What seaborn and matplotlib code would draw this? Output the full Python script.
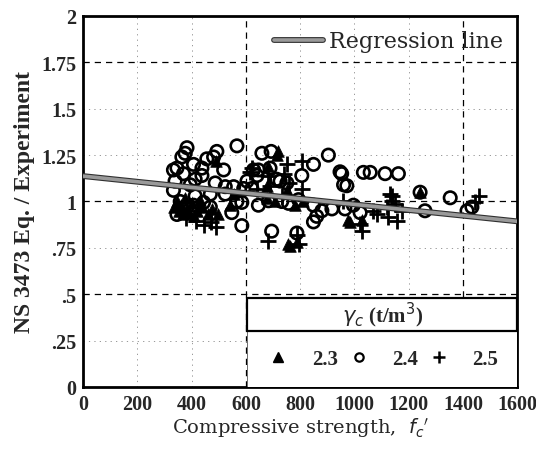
import matplotlib
matplotlib.use("Agg")
import matplotlib.pyplot as plt
import matplotlib.patheffects as pe
from matplotlib.lines import Line2D
from matplotlib.patches import Rectangle
import seaborn as sns
import pandas as pd

# ---- data ----
tri_x = [335, 345, 352, 360, 368, 375, 383, 392, 400, 410, 420, 432, 440, 460, 475, 491, 498,
         555, 540, 714, 719, 682, 677, 751, 708, 677, 781, 812, 757, 763, 790, 975, 984, 1027, 1242]
tri_y = [0.97, 1.00, 0.95, 0.98, 0.93, 1.02, 0.96, 0.94, 0.99, 0.92, 0.95, 1.01, 0.97, 0.93, 0.96, 1.22, 0.93,
         1.04, 0.98, 1.25, 1.27, 1.19, 1.085, 1.06, 1.00, 1.02, 0.98, 1.00, 0.77, 0.76, 0.78, 0.90, 0.89, 0.90, 1.05]

cir_x = [383, 376, 364, 346, 370, 339, 333, 407, 438, 456, 481, 493, 567, 518, 438, 413, 487, 524,
         555, 604, 628, 641, 622, 592, 413, 469, 524, 567, 585, 548, 469, 407, 346, 585, 358, 383,
         444, 333, 395,
         659, 693, 646, 689, 714, 726, 751, 806, 849, 904, 947, 960, 732, 757, 794, 849, 880, 861,
         917, 849, 695, 788, 646, 683,
         953, 972, 1033, 1058, 1113, 1162, 965, 1021, 1242, 1260, 996,
         1353, 1415, 1433]
cir_y = [1.29, 1.26, 1.24, 1.18, 1.15, 1.11, 1.06, 1.20, 1.18, 1.23, 1.24, 1.27, 1.30, 1.17, 1.14, 1.12, 1.10, 1.08,
         1.08, 1.11, 1.17, 1.14, 1.07, 1.07, 1.03, 1.04, 1.04, 1.00, 0.995, 0.94, 0.97, 0.98, 0.93, 0.87, 1.00, 0.97,
         0.995, 1.17, 1.09,
         1.26, 1.27, 1.17, 1.18, 1.12, 1.11, 1.10, 1.14, 1.20, 1.25, 1.16, 1.09, 1.00, 0.99, 1.01, 0.98, 0.95, 0.92,
         0.96, 0.89, 0.84, 0.83, 0.98, 1.004,
         1.15, 1.085, 1.157, 1.157, 1.15, 1.15, 0.96, 0.94, 1.05, 0.95, 0.98,
         1.02, 0.95, 0.97]

plus_x = [415, 445, 470, 490, 380, 622, 616, 751, 806, 683, 732, 806, 689, 680, 794, 788,
          959, 1021, 1027, 1070, 1082, 1131, 1137, 1119, 1150, 1125, 1156, 1174, 1138,
          1458, 1445, 740, 760, 640]
plus_y = [0.895, 0.875, 0.89, 0.86, 0.91, 1.18, 1.16, 1.20, 1.22, 1.14, 1.03, 1.07, 1.085, 0.785, 0.77, 0.82,
          1.004, 0.878, 0.84, 0.95, 0.93, 1.04, 1.004, 0.97, 0.985, 0.914, 0.896, 0.95, 1.03,
          1.03, 0.995, 1.15, 1.10, 1.07]

reg_x = [0, 1600]
reg_y = [1.137, 0.893]

x_ticks = [0, 200, 400, 600, 800, 1000, 1200, 1400, 1600]
y_ticks = [0, 0.25, 0.5, 0.75, 1, 1.25, 1.5, 1.75, 2]
y_tick_labels = ["0", ".25", ".5", ".75", "1", "1.25", "1.5", "1.75", "2"]
legend_labels = ["2.3", "2.4", "2.5"]

sns.set_style("white")
plt.rcParams['font.family'] = ['Liberation Serif', 'DejaVu Serif']

fig = plt.figure(figsize=(5.36, 4.52), dpi=100)
ax = fig.add_axes([0.155, 0.1416, 0.81, 0.8208])

# grid
for v in x_ticks[1:-1]:
    strong = v in (600, 1400)
    ax.axvline(v, color='black' if strong else '#888888', lw=0.9 if strong else 0.6,
               dashes=(5, 4) if strong else (1.5, 5), zorder=0)
for v in y_ticks[1:-1]:
    strong = v in (0.5, 1.0, 1.75)
    ax.axhline(v, color='black' if strong else '#888888', lw=0.9 if strong else 0.6,
               dashes=(5, 4) if strong else (1.5, 5), zorder=0)

df_t = pd.DataFrame({"x": tri_x, "y": tri_y})
df_c = pd.DataFrame({"x": cir_x, "y": cir_y})
df_p = pd.DataFrame({"x": plus_x, "y": plus_y})

sns.scatterplot(data=df_c, x="x", y="y", ax=ax, marker='o', s=80, facecolor='none',
                edgecolor='black', linewidth=1.9, zorder=3)
sns.scatterplot(data=df_t, x="x", y="y", ax=ax, marker='^', s=70, color='black',
                edgecolor='black', linewidth=0.5, zorder=3)
sns.scatterplot(data=df_p, x="x", y="y", ax=ax, marker='+', s=130, color='black',
                linewidth=2.0, zorder=3)

df_r = pd.DataFrame({"x": reg_x, "y": reg_y})
sns.lineplot(data=df_r, x="x", y="y", ax=ax, color='#9a9a9a', lw=2.6, zorder=4,
             path_effects=[pe.Stroke(linewidth=4.2, foreground='#303030'), pe.Normal()])

ax.set_xlim(0, 1600)
ax.set_ylim(0, 2)
ax.set_xticks(x_ticks)
ax.set_xticklabels([str(v) for v in x_ticks])
ax.set_yticks(y_ticks)
ax.set_yticklabels(y_tick_labels)
ax.tick_params(direction='in', length=3, width=1, labelsize=14.5, pad=5)
for lab in ax.get_xticklabels() + ax.get_yticklabels():
    lab.set_fontweight('bold')
for s in ax.spines.values():
    s.set_linewidth(2)
    s.set_color('black')

ax.set_xlabel("Compressive strength,  $f_c$$'$", fontsize=14, family='DejaVu Serif', labelpad=1)
ax.set_ylabel("NS 3473 Eq. / Experiment", fontsize=17, fontweight='bold', labelpad=4)

# regression legend
h_reg = Line2D([0], [0], color='#9a9a9a', lw=2.6,
               path_effects=[pe.Stroke(linewidth=4.2, foreground='#303030'), pe.Normal()])
leg1 = ax.legend([h_reg], ["Regression line"], loc='upper right', frameon=False,
                 prop={'family': 'DejaVu Serif', 'size': 16}, handlelength=2.2,
                 handletextpad=0.25, borderaxespad=0.25, bbox_to_anchor=(1.0, 1.0))
ax.add_artist(leg1)

# density legend box
x0, w = 0.378, 0.622
ax.add_patch(Rectangle((x0, 0.0), w, 0.151, transform=ax.transAxes, facecolor='white',
                       edgecolor='#555555', lw=0.6, zorder=5))
ax.add_patch(Rectangle((x0, 0.151), w, 0.089, transform=ax.transAxes, facecolor='white',
                       edgecolor='black', lw=1.6, zorder=6))
ax.text(x0 + w / 2, 0.1955, r"$\gamma_c$ (t/m$^3$)", transform=ax.transAxes, ha='center',
        va='center', fontsize=15, fontweight='bold', zorder=7)
handles = [Line2D([], [], marker='^', ls='none', color='black', markersize=7),
           Line2D([], [], marker='o', ls='none', markerfacecolor='none', markeredgecolor='black',
                  markeredgewidth=1.6, markersize=6),
           Line2D([], [], marker='+', ls='none', color='black', markeredgewidth=1.8, markersize=9)]
leg2 = ax.legend(handles, legend_labels, ncol=3, loc='center', frameon=False,
                 bbox_to_anchor=(x0, 0.0, w, 0.151), mode='expand',
                 prop={'size': 15, 'weight': 'bold'}, handletextpad=1.0, columnspacing=1.2,
                 handlelength=1.2)
leg2.set_zorder(8)

fig.savefig("out.png", dpi=100)
